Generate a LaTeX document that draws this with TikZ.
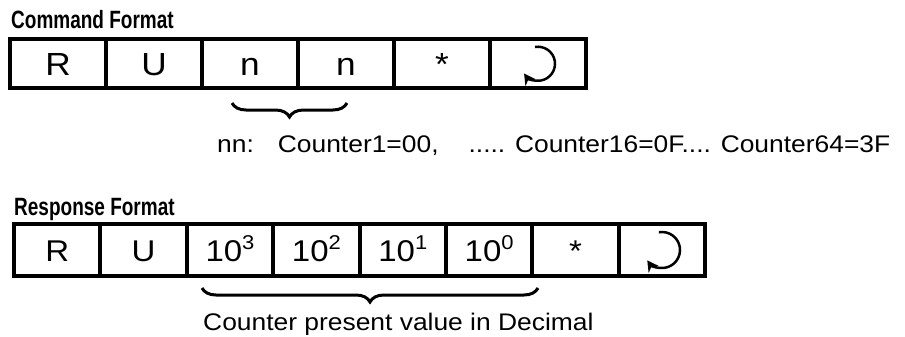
\documentclass[tikz,border=0pt]{standalone}
\usepackage{fontspec}
\setmainfont[FakeStretch=1.1]{Liberation Sans}
\newfontfamily\ttlfont[FakeStretch=0.76]{Liberation Sans}
\usetikzlibrary{decorations.pathreplacing,arrows.meta}
\newcommand\pwr[1]{10\raisebox{12pt}{\fontsize{20}{20}\selectfont #1}}
\begin{document}
\begin{tikzpicture}[x=1pt,y=1pt,
  cellA/.style={draw,line width=4pt,minimum width=96pt,minimum height=48.5pt,inner sep=0pt,outer sep=0pt,text height=23pt,text depth=0pt,font=\fontsize{32}{32}\selectfont},
  cellB/.style={draw,line width=4pt,minimum width=86.4pt,minimum height=52pt,inner sep=0pt,outer sep=0pt,text height=22pt,text depth=0pt,font=\fontsize{30}{30}\selectfont},
  title/.style={anchor=base west,inner sep=0pt,font=\ttlfont\bfseries\fontsize{25}{25}\selectfont},
  body/.style={anchor=base west,inner sep=0pt,font=\fontsize{24}{24}\selectfont},
  brc/.style={decorate,decoration={brace,mirror,amplitude=14pt},line width=3pt},
  ret/.style={line width=2.5pt,-{Stealth[length=11pt,width=12pt]}}
]
\useasboundingbox (0,0) rectangle (905,-337);
% Command format
\node[title] (t1) at (11,-29) {Command Format};
\node[cellA] (c1) at (58,-63.75) {R};
\node[cellA] (c2) at (154,-63.75) {U};
\node[cellA] (c3) at (250,-63.75) {n};
\node[cellA] (c4) at (346,-63.75) {n};
\node[cellA] (c5) at (442,-63.75) {*};
\node[cellA] (c6) at (538,-63.75) {};
\draw[ret] ([shift={(100:17)}]c6.center) arc[start angle=100,end angle=-145,radius=17];
\coordinate (b1a) at (232,-103);
\coordinate (b1b) at (347,-103);
\draw[brc] (b1a) -- (b1b);
\node[body] (l1) at (217,-152) {nn:\hspace{24pt}Counter1=00,\hspace{30pt}..... Counter16=0F.... Counter64=3F};
% Response format
\node[title] (t2) at (14,-215) {Response Format};
\node[cellB] (r1) at (57.2,-250) {R};
\node[cellB] (r2) at (143.6,-250) {U};
\node[cellB] (r3) at (230,-250) {\pwr{3}};
\node[cellB] (r4) at (316.4,-250) {\pwr{2}};
\node[cellB] (r5) at (402.8,-250) {\pwr{1}};
\node[cellB] (r6) at (489.2,-250) {\pwr{0}};
\node[cellB] (r7) at (575.6,-250) {*};
\node[cellB] (r8) at (662,-250) {};
\draw[ret] ([shift={(100:18)}]r8.center) arc[start angle=100,end angle=-145,radius=18];
\coordinate (b2a) at (202,-288);
\coordinate (b2b) at (538,-288);
\draw[brc] (b2a) -- (b2b);
\node[body] (l2) at (203,-330) {Counter present value in Decimal};
\end{tikzpicture}
\end{document}
